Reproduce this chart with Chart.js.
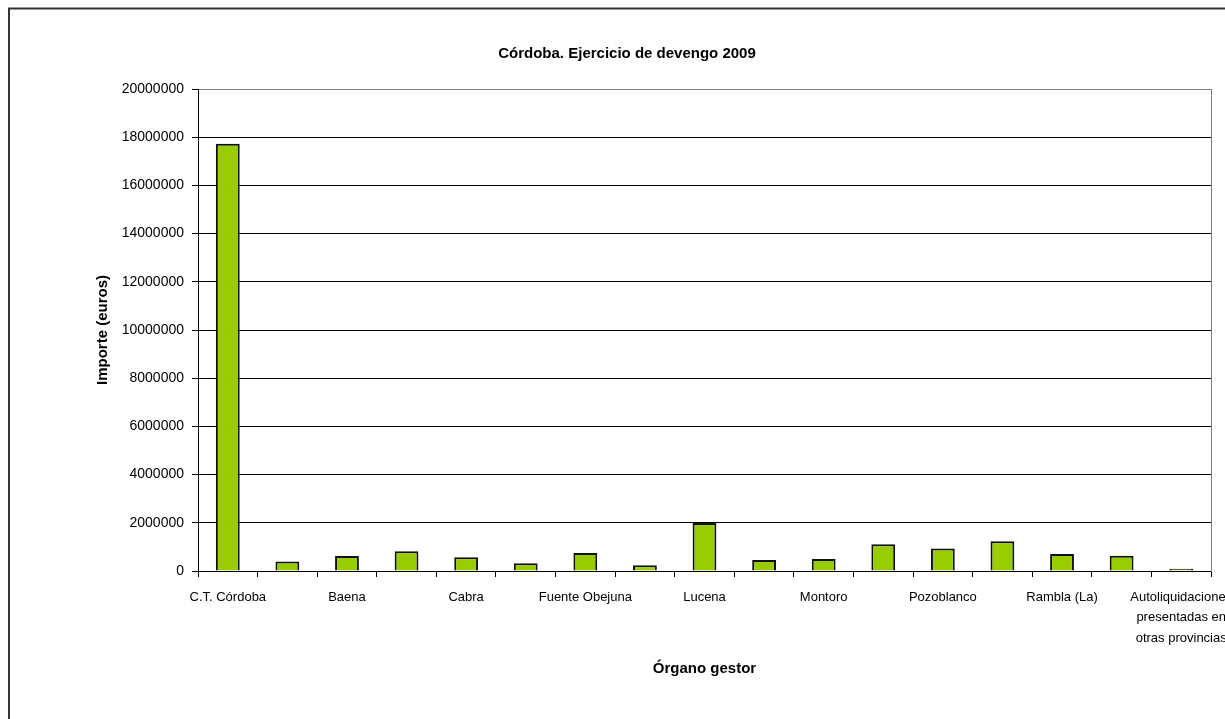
<!DOCTYPE html>
<html>
<head>
<meta charset="utf-8">
<script src="https://cdn.jsdelivr.net/npm/chart.js@4/dist/chart.umd.min.js"></script>
<style>
  html, body { margin: 0; padding: 0; overflow: hidden; background: #fff; }
  #chart { position: absolute; left: 0; top: 0; }
</style>
</head>
<body>
<canvas id="chart" width="1254" height="719"></canvas>
<script>
// data
var organos = [
    "C.T. Córdoba", "Aguilar de la Frontera", "Baena", "Bujalance", "Cabra",
    "Castro del Río", "Fuente Obejuna", "Hinojosa del Duque", "Lucena", "Montilla",
    "Montoro", "Palma del Río", "Pozoblanco", "Priego de Córdoba", "Rambla (La)",
    "Rute", ["Autoliquidaciones", "presentadas en", "otras provincias"]
];
var importes = [
    17730000, 395000, 625000, 820000, 570000,
    320000, 750000, 236000, 1995000, 458000,
    500000, 1111000, 930000, 1236000, 708000,
    632000, 90000
];
var yMax = 20000000;
var yStep = 2000000;

Chart.defaults.font.family = "'Liberation Sans', Arial, sans-serif";
Chart.defaults.color = "#000";

// white background and the frame round the whole chart
var marco = {
    id: 'marco',
    beforeDraw: function(chart) {
        var c = chart.ctx;
        c.save();
        c.fillStyle = '#fff';
        c.fillRect(0, 0, chart.width, chart.height);
        c.strokeStyle = '#333';
        c.lineWidth = 2;
        c.strokeRect(9, 8.5, chart.width - 18, 800);
        c.restore();
    }
};

var ctx = document.getElementById('chart').getContext('2d');

var grafico = new Chart(ctx, {
    type: 'bar',
    data: {
        labels: organos,
        datasets: [{
            label: "Importe",
            data: importes,
            backgroundColor: "#99CC00",
            borderColor: "#111",
            borderWidth: 2,
            barPercentage: 0.4,
            categoryPercentage: 1.0
        }]
    },
    options: {
        responsive: false,
        animation: false,
        devicePixelRatio: 1,
        layout: { padding: 0 },
        plugins: {
            legend: { display: false },
            tooltip: { enabled: false },
            title: {
                display: true,
                text: "Córdoba. Ejercicio de devengo 2009",
                font: { size: 15, weight: 'bold' },
                padding: { top: 45, bottom: 26 }
            }
        },
        scales: {
            x: {
                grid: {
                    drawOnChartArea: false,
                    drawTicks: true,
                    tickLength: 6,
                    color: "#000",
                    offset: true
                },
                border: { color: "#000" },
                ticks: {
                    autoSkip: false,
                    maxRotation: 0,
                    padding: 10,
                    font: { size: 13, lineHeight: '20.5px' },
                    callback: function(value, index) {
                        return index % 2 === 0 ? this.getLabelForValue(value) : '';
                    }
                },
                title: {
                    display: true,
                    text: "Órgano gestor",
                    font: { size: 15, weight: 'bold' },
                    padding: { top: 0, bottom: 41 }
                },
                afterFit: function(scale) {
                    scale.height = 148;
                    scale.paddingLeft = 0;
                    scale.paddingRight = 0;
                }
            },
            y: {
                min: 0,
                max: yMax,
                grid: {
                    color: function(c) {
                        return c.tick && c.tick.value === yMax ? "#808080" : "#000";
                    },
                    tickColor: "#000",
                    tickLength: 6
                },
                border: { color: "#000" },
                ticks: {
                    stepSize: yStep,
                    padding: 8,
                    font: { size: 14 },
                    callback: function(value) { return String(value); }
                },
                title: {
                    display: true,
                    text: "Importe (euros)",
                    font: { size: 15, weight: 'bold' },
                    padding: { top: 94, bottom: 0 }
                },
                afterFit: function(scale) {
                    scale.width = 198;
                    scale.paddingTop = 0;
                    scale.paddingBottom = 0;
                }
            },
            // empty right axis: grey plot border and the space to the frame
            borde: {
                position: 'right',
                min: 0,
                max: yMax,
                grid: { drawOnChartArea: false, drawTicks: false },
                border: { color: "#808080" },
                ticks: { display: false },
                afterFit: function(scale) {
                    scale.width = 43;
                    scale.paddingTop = 0;
                    scale.paddingBottom = 0;
                }
            }
        }
    },
    plugins: [marco]
});
</script>
</body>
</html>
